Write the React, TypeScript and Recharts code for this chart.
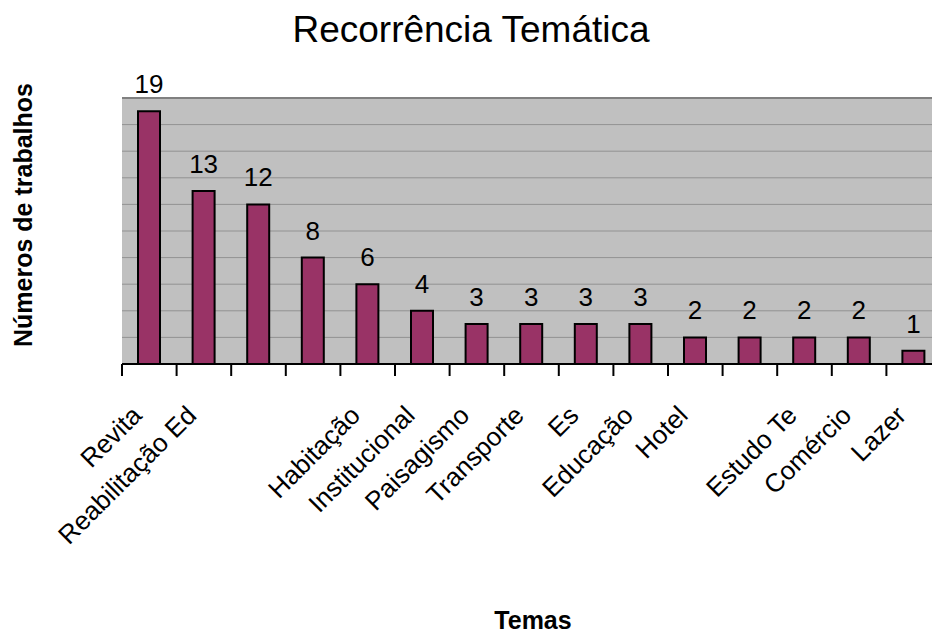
import { Bar, BarChart, CartesianGrid, LabelList, ReferenceLine, XAxis, YAxis } from 'recharts';

const temas = [
  'Revita',
  'Reabilitação Ed',
  '',
  '',
  'Habitação',
  'Institucional',
  'Paisagismo',
  'Transporte',
  'Es',
  'Educação',
  'Hotel',
  '',
  'Estudo Te',
  'Comércio',
  'Lazer',
];
const trabalhos = [19, 13, 12, 8, 6, 4, 3, 3, 3, 3, 2, 2, 2, 2, 1];
const yTicks = [0, 2, 4, 6, 8, 10, 12, 14, 16, 18, 20];

const data = temas.map((tema, i) => ({ tema, valor: trabalhos[i] }));

const W = 932;
const H = 633;
const LEFT = 122;
const RIGHT = -9;
const BAND = (W - LEFT - RIGHT) / temas.length;
const FONT = '"Liberation Sans", Arial, sans-serif';

function TemaTick(props: any) {
  const { x, y, payload } = props;
  const tx = x - 6;
  const ty = y + 53;
  return (
    <g>
      <line x1={x - BAND / 2} x2={x - BAND / 2} y1={y} y2={y + 12} stroke="#000" strokeWidth={2} />
      <text
        x={tx}
        y={ty}
        transform={`rotate(-45, ${tx}, ${ty})`}
        textAnchor="end"
        fontSize={26}
        fontFamily={FONT}
        fill="#000"
      >
        {payload.value}
      </text>
    </g>
  );
}

export default function App() {
  return (
    <div style={{ position: 'absolute', left: 0, top: 0, width: W, height: H, background: '#fff', fontFamily: FONT }}>
      <BarChart width={W} height={H} data={data} margin={{ top: 98, right: RIGHT, bottom: 0, left: LEFT }}>
        <CartesianGrid vertical={false} fill="#c0c0c0" stroke="#929292" strokeWidth={1} />
        <XAxis
          dataKey="tema"
          interval={0}
          height={269}
          tickSize={0}
          tickMargin={0}
          tickLine={false}
          axisLine={{ stroke: '#000', strokeWidth: 2 }}
          tick={<TemaTick />}
        />
        <YAxis
          domain={[0, 20]}
          ticks={yTicks}
          interval={0}
          width={0}
          tick={() => <g />}
          tickLine={false}
          axisLine={{ stroke: '#808080', strokeWidth: 2 }}
        />
        <ReferenceLine y={20} stroke="#808080" strokeWidth={2} />
        <Bar dataKey="valor" fill="#993366" stroke="#000" strokeWidth={2} barSize={22} isAnimationActive={false}>
          <LabelList dataKey="valor" position="top" offset={18} fill="#000" fontSize={26} fontFamily={FONT} />
        </Bar>
      </BarChart>
      <div
        style={{
          position: 'absolute',
          left: 471,
          top: 11,
          transform: 'translateX(-50%)',
          fontSize: 37,
          lineHeight: 1,
          whiteSpace: 'nowrap',
        }}
      >
        Recorrência Temática
      </div>
      <div
        style={{
          position: 'absolute',
          left: 23,
          top: 215,
          transform: 'translate(-50%, -50%) rotate(-90deg)',
          fontSize: 25,
          fontWeight: 'bold',
          lineHeight: 1,
          whiteSpace: 'nowrap',
        }}
      >
        Números de trabalhos
      </div>
      <div
        style={{
          position: 'absolute',
          left: 533,
          top: 608,
          transform: 'translateX(-50%)',
          fontSize: 25,
          fontWeight: 'bold',
          lineHeight: 1,
          whiteSpace: 'nowrap',
        }}
      >
        Temas
      </div>
    </div>
  );
}
